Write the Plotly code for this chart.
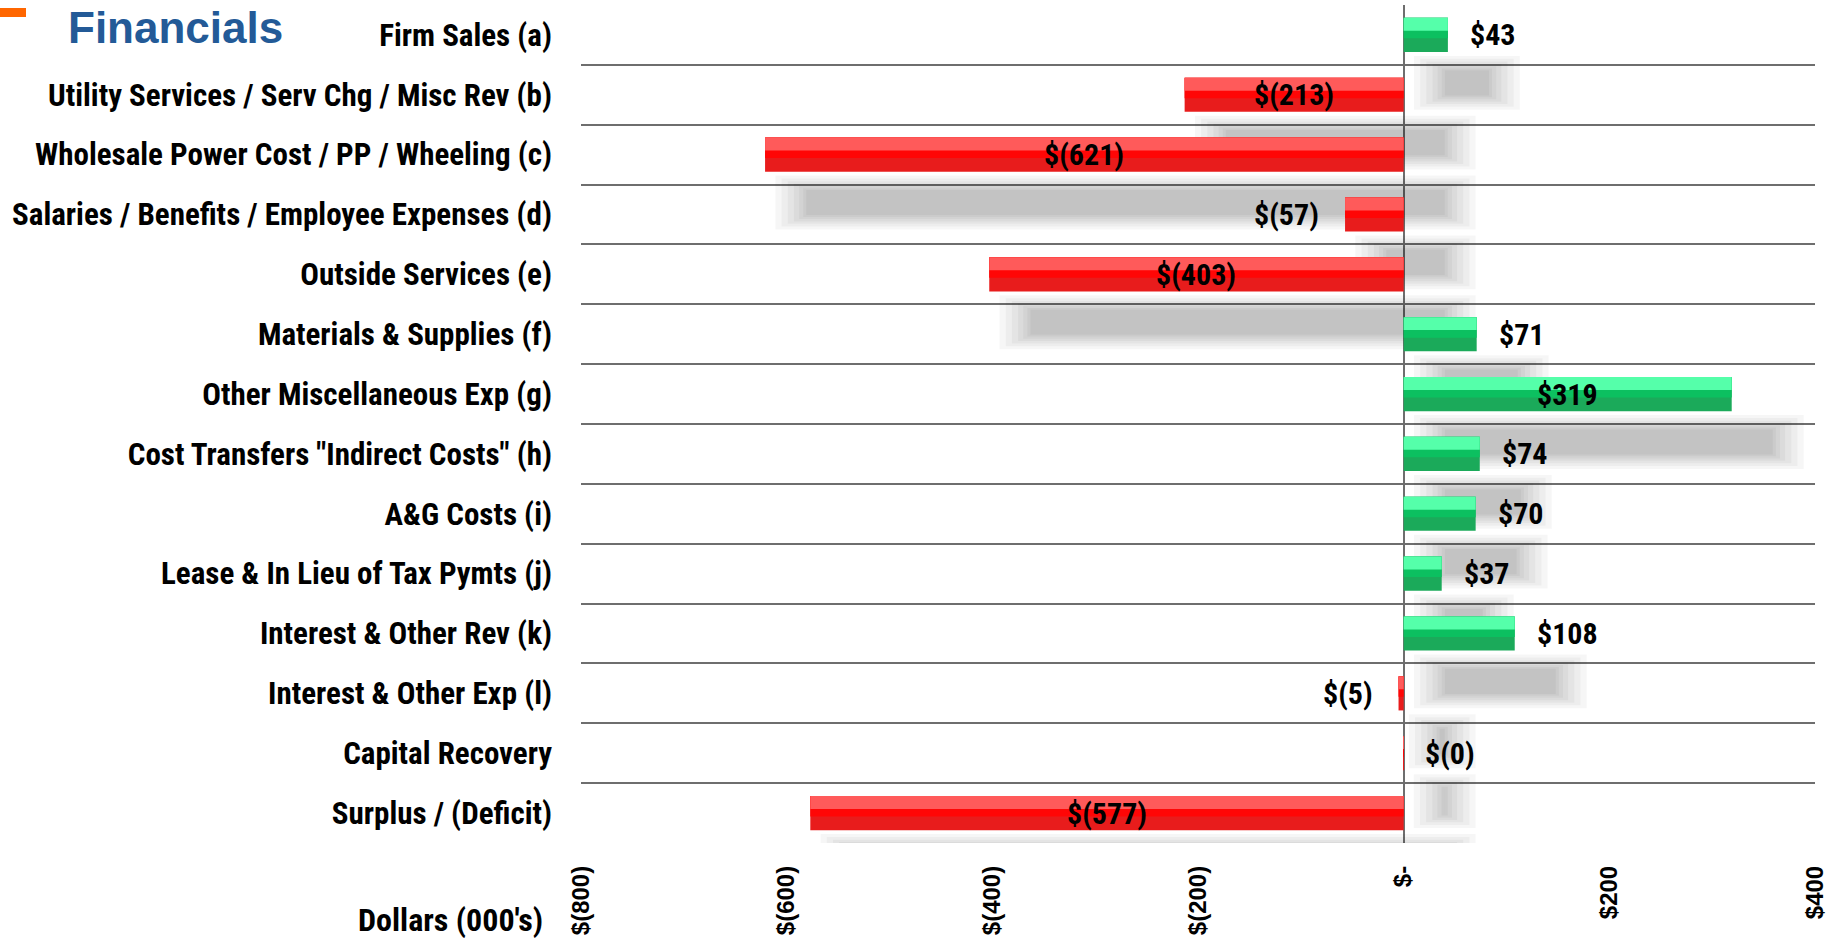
import plotly.graph_objects as go

# ---------------- data ----------------
categories = [
    "Firm Sales (a)",
    "Utility Services / Serv Chg / Misc Rev (b)",
    "Wholesale Power Cost / PP / Wheeling (c)",
    "Salaries / Benefits / Employee Expenses (d)",
    "Outside Services (e)",
    "Materials & Supplies (f)",
    "Other Miscellaneous Exp (g)",
    "Cost Transfers \"Indirect Costs\" (h)",
    "A&G Costs (i)",
    "Lease & In Lieu of Tax Pymts (j)",
    "Interest & Other Rev (k)",
    "Interest & Other Exp (l)",
    "Capital Recovery",
    "Surplus / (Deficit)",
]
values = [43, -213, -621, -57, -403, 71, 319, 74, 70, 37, 108, -5, -0.2, -577]
tick_values = [-800, -600, -400, -200, 0, 200, 400]
tick_labels = ["$(800)", "$(600)", "$(400)", "$(200)", "$-", "$200", "$400"]
x_range = [-800, 400]

# ---------------- layout constants ----------------
W, H = 1833, 940
ML, MR, MT, MB = 581, 18, 5, 97
PW, PH = W - ML - MR, H - MT - MB


def px_x(X):
    return (X - ML) / PW


def px_y(Y):
    return (H - MB - Y) / PH


NARROW = "Roboto Condensed, Roboto, Liberation Sans, Arial, sans-serif"
SANS = "Liberation Sans, Arial, sans-serif"

BAR_W = 0.57

neg_cols = {"light": "#ff5a5a", "mid": "#ff0606", "dark": "#e81c1c"}
pos_cols = {"light": "#55ffaa", "mid": "#0cc060", "dark": "#1baa5a"}


def colors(part):
    return [pos_cols[part] if v >= 0 else neg_cols[part] for v in values]


def fmt(v):
    return f"${abs(v):.0f}" if v >= 0 else f"$({abs(v):.0f})"


fig = go.Figure()

# soft shadows (several translucent layers)
shadow_shift_y = 0.8
shadow_shift_x = 40
sgn = [1 if v >= 0 else -1 for v in values]
for w_k, e_k in [(0.9, 30), (0.8, 24), (0.71, 18), (0.63, 12), (0.55, 7), (0.48, 3), (0.42, 0)]:
    fig.add_trace(go.Bar(
        orientation="h", y=categories,
        x=[v + s * 2 * e_k for v, s in zip(values, sgn)],
        base=[shadow_shift_x - s * e_k for s in sgn],
        width=w_k, offset=shadow_shift_y - w_k / 2,
        marker=dict(color="rgba(0,0,0,0.035)", line=dict(width=0)),
        hoverinfo="skip", showlegend=False,
    ))

# bevel-like bars: dark full bar, mid band, light top band
for part, frac in [("dark", 1.0), ("mid", 0.6), ("light", 0.38)]:
    fig.add_trace(go.Bar(
        orientation="h", y=categories, x=values,
        width=BAR_W * frac, offset=-BAR_W / 2,
        marker=dict(color=colors(part), line=dict(width=0)),
        hoverinfo="skip", showlegend=False,
    ))

annotations = []
for cat, v in zip(categories, values):
    if abs(v) >= 150:
        annotations.append(dict(x=v / 2, y=cat, xref="x", yref="y", text=fmt(v),
                                showarrow=False, xanchor="center"))
    elif v >= 0 or abs(v) < 1:
        annotations.append(dict(x=v, y=cat, xref="x", yref="y", text=fmt(v),
                                showarrow=False, xanchor="left", xshift=20))
    else:
        annotations.append(dict(x=v, y=cat, xref="x", yref="y", text=fmt(v),
                                showarrow=False, xanchor="right", xshift=-24))
for a in annotations:
    a["font"] = dict(family=NARROW, size=30, color="black", weight="bold")

annotations.append(dict(x=px_x(450), y=px_y(920), xref="paper", yref="paper",
                        text="Dollars (000's)", showarrow=False, xanchor="center",
                        yanchor="middle",
                        font=dict(family=NARROW, size=32, color="black", weight="bold")))
annotations.append(dict(x=px_x(66), y=px_y(28), xref="paper", yref="paper",
                        text="Financials", showarrow=False, xanchor="left",
                        yanchor="middle",
                        font=dict(family=SANS, size=44, color="#235a97", weight="bold")))

fig.update_layout(
    width=W, height=H,
    margin=dict(l=ML, r=MR, t=MT, b=MB, pad=0, autoexpand=False),
    paper_bgcolor="white", plot_bgcolor="white",
    barmode="overlay",
    showlegend=False,
    annotations=annotations,
    shapes=[dict(type="rect", xref="paper", yref="paper",
                 x0=px_x(0), x1=px_x(26), y0=px_y(17), y1=px_y(8),
                 fillcolor="#ff6600", line=dict(width=0))],
    xaxis=dict(
        range=x_range, tickvals=tick_values, ticktext=tick_labels,
        tickangle=-90, showgrid=False, zeroline=True, zerolinecolor="#6e6e6e",
        zerolinewidth=2, showline=False, ticks="", ticklabelstandoff=17,
        tickfont=dict(family=SANS, size=24, color="black", weight="bold"),
        fixedrange=True, automargin=False,
    ),
    yaxis=dict(
        type="category", categoryorder="array", categoryarray=categories,
        range=[len(categories) - 0.5, -0.5],
        tickson="boundaries", showgrid=True, gridcolor="#6e6e6e", gridwidth=2,
        ticks="", ticklabelstandoff=28, showline=False, zeroline=False,
        tickfont=dict(family=NARROW, size=31, color="black", weight="bold"),
        fixedrange=True, automargin=False,
    ),
)

fig.write_html("out.html")
